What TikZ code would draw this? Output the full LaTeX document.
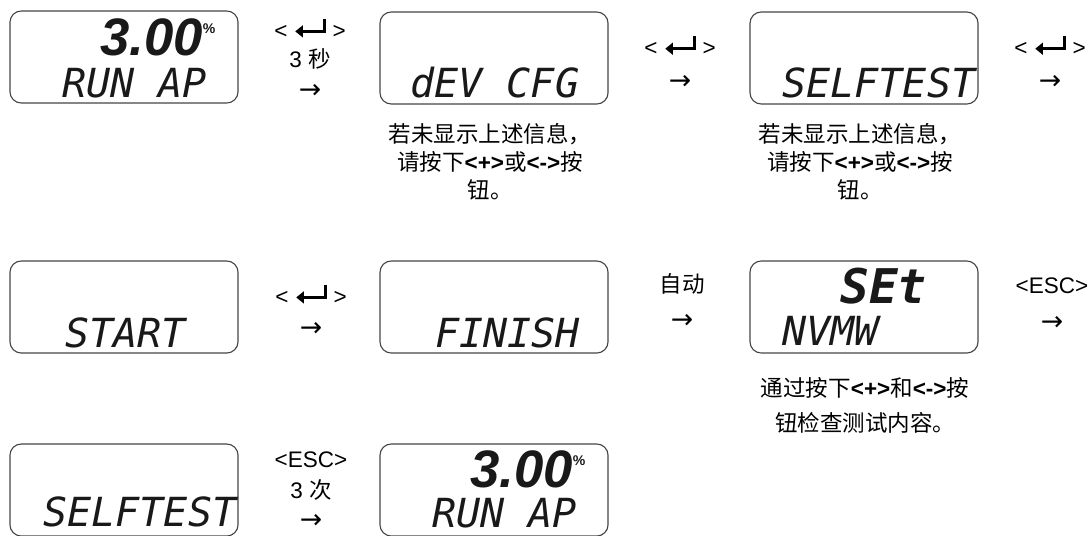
\documentclass[tikz,border=0pt]{standalone}
\usepackage{fontspec}
\setmainfont{Liberation Sans}
\newfontfamily\cjk{Noto Sans CJK SC}
\newfontfamily\lcdfont{DejaVu Sans Mono}
\newfontfamily\digitfont{Liberation Sans}
\newfontfamily\arrowfont{DejaVu Sans}
\usetikzlibrary{
    arrows.meta,
    positioning,
}
\definecolor{LcdFrame}{RGB}{70,70,70}
\definecolor{LcdInk}{RGB}{25,25,25}

\newcommand{\enterkey}{\tikz[baseline=0pt]\draw[line width=2.2pt,-{Triangle[length=5.5pt,width=8.5pt]}] (21pt,14pt) |- (0pt,5pt);}
\newcommand{\keyname}[1]{{\normalfont\bfseries #1}}
\newcommand{\steparrow}{{\arrowfont\fontsize{19pt}{19pt}\selectfont →}}

\begin{document}
\begin{tikzpicture}[x=0.025cm, y=-0.025cm,
    lcdbox/.style={draw=LcdFrame, line width=0.8pt, rounded corners=8pt,
        minimum width=5.7cm, minimum height=2.3cm, inner sep=0pt, outer sep=0pt},
    lcdtext/.style={anchor=base west, inner sep=0pt, text=LcdInk,
        font=\fontsize{28.5pt}{30pt}\selectfont\lcdfont\itshape},
    lcdbig/.style={anchor=base west, inner sep=0pt, text=LcdInk,
        font=\fontsize{37.5pt}{40pt}\selectfont\digitfont\bfseries\itshape},
    lcdset/.style={anchor=base west, inner sep=0pt, text=LcdInk,
        font=\fontsize{34pt}{36pt}\selectfont\lcdfont\bfseries\itshape},
    keylabel/.style={align=center, inner sep=0pt,
        font=\fontsize{16pt}{22pt}\selectfont},
    note/.style={align=center, inner sep=0pt,
        font=\fontsize{16pt}{20pt}\selectfont\cjk},
]
    \useasboundingbox[fill=white] (0,0) rectangle (1089,535);
    \clip (0,0) rectangle (1089,535);

    % displays
    \node[lcdbox] (runap) at (124,57) {};
    \node[lcdbox] (devcfg) at (494,58) {};
    \node[lcdbox] (selftest) at (864,58) {};
    \node[lcdbox] (start) at (124,307) {};
    \node[lcdbox] (finish) at (494,307) {};
    \node[lcdbox] (nvmw) at (864,307) {};
    \node[lcdbox] (selftestend) at (124,490) {};
    \node[lcdbox] (runapend) at (494,490) {};

    % display texts
    \node[lcdbig] (runapval) at (100,55) {3.00\raisebox{15pt}{\fontsize{10pt}{10pt}\selectfont\upshape\%}};
    \node[lcdtext] (runapmode) at (62,97) {RUN AP};
    \node[lcdtext] (devcfgtxt) at (410,97) {dEV CFG};
    \node[lcdtext] (selftesttxt) at (782,97) {SELFTEST};
    \node[lcdtext] (starttxt) at (65,347) {START};
    \node[lcdtext] (finishtxt) at (435,347) {FINISH};
    \node[lcdset] (settxt) at (840,303) {SEt};
    \node[lcdtext] (nvmwtxt) at (782,345) {NVMW};
    \node[lcdtext] (selftestendtxt) at (43,526) {SELFTEST};
    \node[lcdbig] (runapendval) at (470,487) {3.00\raisebox{15pt}{\fontsize{10pt}{10pt}\selectfont\upshape\%}};
    \node[lcdtext] (runapendmode) at (432,527) {RUN AP};

    % key steps
    \node[keylabel] (enterhold) at (310,58) {< \enterkey{} >\\[-1pt]3 {\cjk 秒}\\[0pt]\steparrow};
    \node[keylabel] (entera) at (680,62) {< \enterkey{} >\\[2pt]\steparrow};
    \node[keylabel] (enterb) at (1050,62) {< \enterkey{} >\\[2pt]\steparrow};
    \node[keylabel] (enterc) at (311,310) {< \enterkey{} >\\[1pt]\steparrow};
    \node[keylabel] (auto) at (682,301) {{\cjk 自动}\\[3pt]\steparrow};
    \node[keylabel] (esca) at (1052,304) {<ESC>\\[4pt]\steparrow};
    \node[keylabel] (escthree) at (311,490) {<ESC>\\[0pt]3 {\cjk 次}\\[-1pt]\steparrow};

    % hints
    \node[note] (hintdev) at (490,162) {若未显示上述信息，\\请按下\keyname{<+>}或\keyname{<->}按\\钮。};
    \node[note] (hintself) at (860,162) {若未显示上述信息，\\请按下\keyname{<+>}或\keyname{<->}按\\钮。};
    \node[note] (hintset) at (865,405) {通过按下\keyname{<+>}和\keyname{<->}按\\[5pt]钮检查测试内容。};
\end{tikzpicture}
\end{document}
